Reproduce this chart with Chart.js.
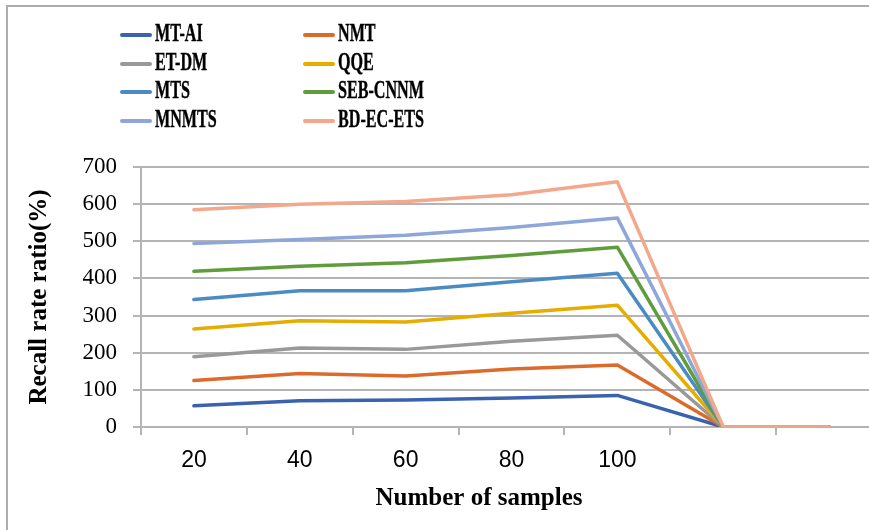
<!DOCTYPE html>
<html>
<head>
<meta charset="utf-8">
<script src="https://cdn.jsdelivr.net/npm/chart.js@4"></script>
<style>
    body { margin: 0; background: #fff; overflow: hidden; }
    #wrap { position: relative; width: 869px; height: 530px; overflow: hidden; }
    #frame { position: absolute; left: 6px; top: 5px; width: 900px; height: 600px;
             border-left: 2px solid #acacac; border-top: 2px solid #acacac; }
    #myChart { position: absolute; left: 0; top: 0; }
    #legend { position: absolute; left: 120px; top: 21px; width: 400px; }
    .item { position: absolute; height: 28px; white-space: nowrap; }
    .item i { position: absolute; left: 0; top: 12px; width: 32px; height: 4px; border-radius: 2px; }
    .item span { position: absolute; left: 35px; top: -3px; font: bold 26px "Liberation Serif", serif;
                 transform: scaleX(0.62); transform-origin: left center; color: #000;
                 -webkit-text-stroke: 0.4px #000; }
</style>
</head>
<body>
<div id="wrap">
    <div id="frame"></div>
    <canvas id="myChart" width="884" height="530"></canvas>
    <div id="legend"></div>
</div>
<script>
var samples = ['20', '40', '60', '80', '100', '', ''];
var names = ['MT-AI', 'NMT', 'ET-DM', 'QQE', 'MTS', 'SEB-CNNM', 'MNMTS', 'BD-EC-ETS'];
var colors = ['#3a62ae', '#dc6b2b', '#999999', '#e6ac00', '#4b8bc4', '#5f9c3b', '#8fa6d9', '#f3a88b'];

var mtai = [57, 71, 73, 78, 85, 0, 0];
var nmt = [125, 144, 137, 156, 167, 0, 0];
var etdm = [189, 213, 209, 231, 247, 0, 0];
var qqe = [264, 286, 283, 306, 328, 0, 0];
var mts = [343, 367, 367, 391, 414, 0, 0];
var sebcnnm = [419, 433, 442, 462, 484, 0, 0];
var mnmts = [494, 505, 516, 537, 563, 0, 0];
var bdecets = [585, 600, 607, 625, 660, 0, 0];

var series = [mtai, nmt, etdm, qqe, mts, sebcnnm, mnmts, bdecets];

var datasets = [];
series.forEach(function (vals, i) {
    datasets.push({
        label: names[i],
        data: vals,
        borderColor: colors[i],
        backgroundColor: colors[i],
        borderWidth: 3.5,
        pointRadius: 0,
        tension: 0,
        borderJoinStyle: 'round',
        borderCapStyle: 'round',
        order: series.length - i   // last series drawn on top, like excel
    });
});

// x axis title, drawn by hand since it is not centred on the plot
var xTitle = {
    id: 'xTitle',
    afterDraw: function (chart) {
        var ctx = chart.ctx;
        ctx.save();
        ctx.font = 'bold 25px "Liberation Serif"';
        ctx.fillStyle = '#000';
        ctx.textAlign = 'center';
        ctx.textBaseline = 'middle';
        ctx.fillText('Number of samples', 479, 499);
        ctx.restore();
    }
};

var ctx = document.getElementById('myChart').getContext('2d');
var myChart = new Chart(ctx, {
    type: 'line',
    data: { labels: samples, datasets: datasets },
    options: {
        responsive: false,
        animation: false,
        layout: { padding: { top: 167, right: 2, left: 0, bottom: 0 } },
        plugins: { legend: { display: false }, tooltip: { enabled: false } },
        scales: {
            x: {
                offset: true,
                afterFit: function (scale) { scale.height = 103; },
                border: { display: true, color: '#b4b4b4', width: 2 },
                grid: { offset: true, drawOnChartArea: false, drawTicks: true, tickLength: 8, color: '#b4b4b4', lineWidth: 2 },
                ticks: { color: '#000', padding: 12, maxRotation: 0, autoSkip: false, font: { family: 'Liberation Sans', size: 23 } }
            },
            y: {
                min: 0,
                max: 700,
                afterFit: function (scale) { scale.width = 141; },
                border: { display: true, color: '#b4b4b4', width: 2 },
                grid: { color: '#b4b4b4', lineWidth: 2, tickLength: 8 },
                ticks: { stepSize: 100, color: '#000', padding: 16, font: { family: 'Liberation Serif', size: 23 } },
                title: { display: true, text: 'Recall rate ratio(%)', color: '#000', padding: { top: 25 },
                         font: { family: 'Liberation Serif', size: 25, weight: 'bold' } }
            }
        }
    },
    plugins: [xTitle]
});

// two column legend as in the original figure
var legend = document.getElementById('legend');
myChart.data.datasets.forEach(function (ds, i) {
    var div = document.createElement('div');
    div.className = 'item';
    div.style.left = (i % 2 ? 183 : 0) + 'px';
    div.style.top = (Math.floor(i / 2) * 28.7) + 'px';
    div.innerHTML = '<i style="background:' + ds.borderColor + '"></i><span>' + ds.label + '</span>';
    legend.appendChild(div);
});
</script>
</body>
</html>
